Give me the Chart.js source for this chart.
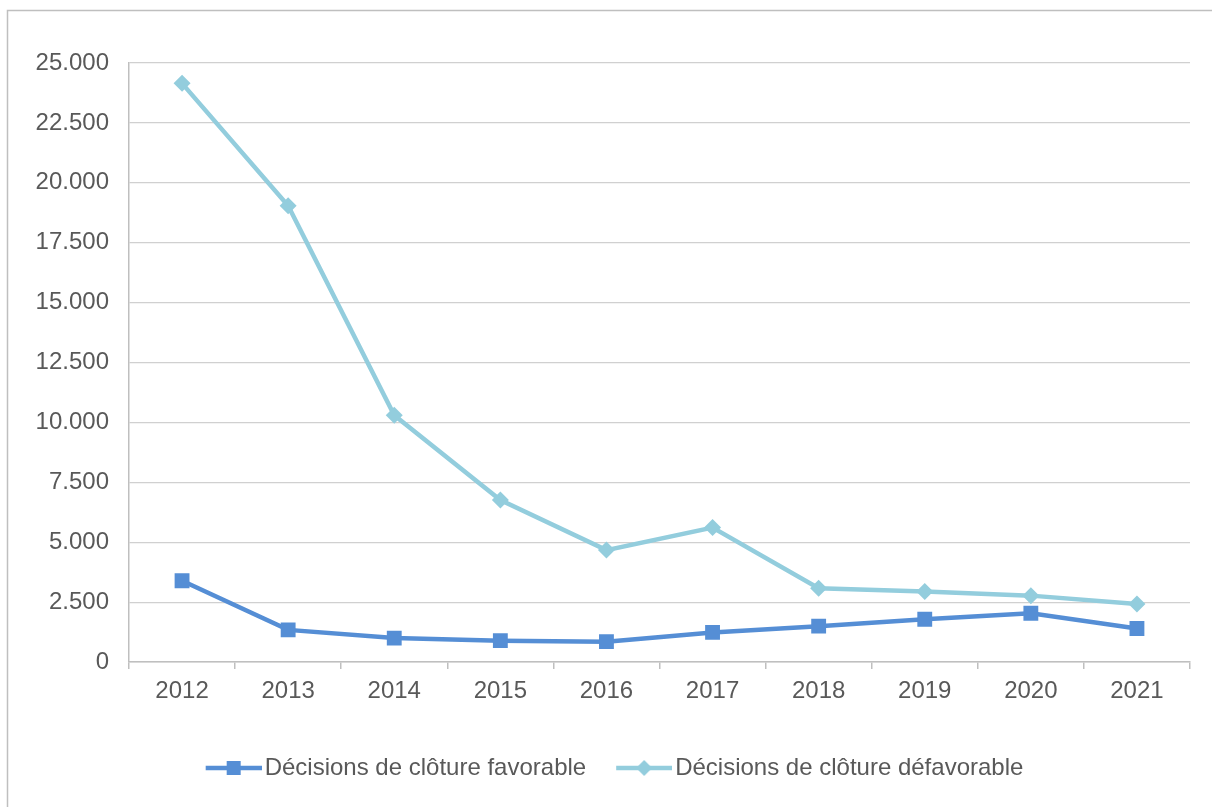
<!DOCTYPE html>
<html>
<head>
<meta charset="utf-8">
<script src="https://cdn.jsdelivr.net/npm/chart.js@4"></script>
<style>
  html, body { margin: 0; padding: 0; background: #fff; }
  #wrap { width: 1212px; height: 807px; }
</style>
</head>
<body>
<div id="wrap"><canvas id="chart" width="1212" height="807"></canvas></div>
<script>
// data
const years = ['2012', '2013', '2014', '2015', '2016', '2017', '2018', '2019', '2020', '2021'];
const favorable = [3390, 1340, 997, 889, 850, 1235, 1495, 1786, 2035, 1400];
const defavorable = [24150, 19040, 10300, 6760, 4670, 5610, 3075, 2940, 2770, 2425];
const seriesNames = ['Décisions de clôture favorable', 'Décisions de clôture défavorable'];
const yTicks = [0, 2500, 5000, 7500, 10000, 12500, 15000, 17500, 20000, 22500, 25000];

const textColor = '#595959';
const favColor = '#558ED5';
const defColor = '#93CDDD';
const font = { family: 'Liberation Sans, Arial, sans-serif', size: 24 };

// legend symbol: a short line with the marker in the middle.
// the canvas is wider than the legend box and the line sits in its right part,
// so the symbol ends up close to the text like in the original
function legendIcon(color, shape) {
  const c = document.createElement('canvas');
  c.width = 74; c.height = 16;
  const ctx = c.getContext('2d');
  ctx.strokeStyle = color;
  ctx.lineWidth = 4.5;
  ctx.beginPath();
  ctx.moveTo(18, 8); ctx.lineTo(74, 8);
  ctx.stroke();
  ctx.fillStyle = color;
  if (shape === 'square') {
    ctx.fillRect(39, 1, 14, 14);
  } else {
    ctx.beginPath();
    ctx.moveTo(46, 0); ctx.lineTo(54, 8); ctx.lineTo(46, 16); ctx.lineTo(38, 8);
    ctx.closePath();
    ctx.fill();
  }
  return c;
}

const icons = [legendIcon(favColor, 'square'), legendIcon(defColor, 'diamond')];

// grey frame around the whole chart (only left and top are visible)
const frame = {
  id: 'frame',
  beforeDraw(chart) {
    const ctx = chart.ctx;
    ctx.save();
    ctx.strokeStyle = '#bfbfbf';
    ctx.lineWidth = 1.5;
    ctx.strokeRect(7.5, 10.5, 1300, 900);
    ctx.restore();
  }
};

new Chart(document.getElementById('chart'), {
  type: 'line',
  data: {
    labels: years,
    datasets: [
      {
        label: seriesNames[0],
        data: favorable,
        borderColor: favColor,
        backgroundColor: favColor,
        borderWidth: 4.5,
        pointStyle: 'rect',
        pointRadius: 10.5,
        pointBorderWidth: 0,
        tension: 0
      },
      {
        label: seriesNames[1],
        data: defavorable,
        borderColor: defColor,
        backgroundColor: defColor,
        borderWidth: 4.5,
        pointStyle: 'rectRot',
        pointRadius: 8.5,
        pointBorderWidth: 0,
        tension: 0
      }
    ]
  },
  options: {
    responsive: false,
    animation: false,
    layout: { padding: { top: 63, right: 22, bottom: 17, left: 30 } },
    plugins: {
      tooltip: { enabled: false },
      legend: {
        position: 'bottom',
        labels: {
          color: textColor,
          font: font,
          usePointStyle: true,
          pointStyleWidth: 56,
          padding: 21,
          generateLabels(chart) {
            return chart.data.datasets.map((ds, i) => ({
              text: ds.label,
              pointStyle: icons[i],
              fillStyle: ds.borderColor,
              strokeStyle: ds.borderColor,
              lineWidth: 0,
              fontColor: textColor,
              hidden: false,
              datasetIndex: i
            }));
          }
        }
      }
    },
    scales: {
      x: {
        offset: true,
        afterFit(scale) { scale.height = 73; },
        grid: {
          offset: true,
          drawOnChartArea: false,
          drawTicks: true,
          tickLength: 7,
          color: '#bfbfbf',
          lineWidth: 1.5
        },
        border: { color: '#bfbfbf', width: 1.5 },
        ticks: {
          color: textColor,
          padding: 8,
          font: font
        }
      },
      y: {
        min: 0,
        max: 25000,
        afterFit(scale) { scale.width = 99; },
        afterBuildTicks(scale) { scale.ticks = yTicks.map(v => ({ value: v })); },
        grid: {
          color: '#d0d0d0',
          lineWidth: 1.2,
          drawTicks: false
        },
        border: { color: '#bfbfbf', width: 1.5 },
        ticks: {
          color: textColor,
          padding: 20,
          font: font,
          callback(v) { return v === 0 ? '0' : v.toLocaleString('de-DE'); }
        }
      }
    }
  },
  plugins: [frame]
});
</script>
</body>
</html>
